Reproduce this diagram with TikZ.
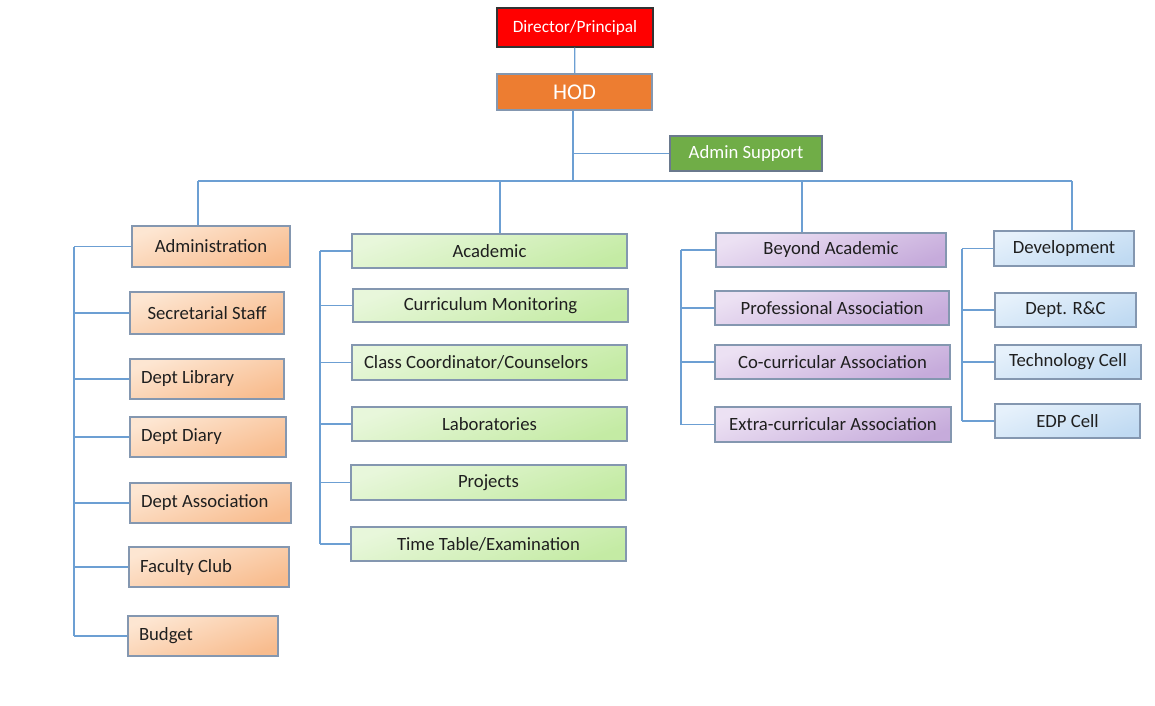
\documentclass[tikz,border=0pt]{standalone}
\usepackage{fontspec}
\setmainfont{Carlito}
\usepackage{tikz}

\definecolor{dirred}{HTML}{FF0000}
\definecolor{hodorg}{HTML}{ED7D31}
\definecolor{supgrn}{HTML}{70AD47}
\definecolor{linkc}{HTML}{6C9FD3}
\definecolor{boxline}{HTML}{8497B0}
\definecolor{orgA}{HTML}{FDE6D2}
\definecolor{orgB}{HTML}{F8BC8E}
\definecolor{grnA}{HTML}{E8F7DB}
\definecolor{grnB}{HTML}{C4EBA4}
\definecolor{purA}{HTML}{ECE1F3}
\definecolor{purB}{HTML}{C6ABDB}
\definecolor{bluA}{HTML}{E6F1FB}
\definecolor{bluB}{HTML}{C0DAF2}

\tikzset{
  box/.style={draw=boxline, line width=0.8pt, minimum height=0.85cm, inner sep=0pt,
    font=\fontsize{13.3}{16}\selectfont, text=black!88},
  headbox/.style={box, text=white},
  admbox/.style={box, top color=orgA, bottom color=orgB, shading angle=20, minimum height=1cm},
  leftbox/.style={admbox, align=flush left, inner xsep=0.275cm, text width=#1},
  acabox/.style={box, top color=grnA, bottom color=grnB, shading angle=20, minimum width=6.875cm},
  beybox/.style={box, top color=purA, bottom color=purB, shading angle=20},
  devbox/.style={box, top color=bluA, bottom color=bluB, shading angle=20},
  link/.style={draw=linkc, line width=0.9pt}
}

\begin{document}
\begin{tikzpicture}[x=1cm, y=-1cm]
  \useasboundingbox (0,0) rectangle (28.875,17.625);

  % top of the chart
  \node[headbox, fill=dirred, draw=black!80, minimum width=3.9cm, minimum height=0.975cm,
    font=\fontsize{12.3}{15}\selectfont] (dir) at (14.375,0.6875) {Director/Principal};
  \node[headbox, fill=hodorg, minimum width=3.875cm, minimum height=0.9cm,
    font=\fontsize{16}{19}\selectfont] (hod) at (14.3625,2.3) {HOD};
  \node[headbox, fill=supgrn, draw=boxline!80!black, minimum width=3.8cm, minimum height=0.875cm] (asup) at (18.65,3.8375) {Admin Support};

  % administration
  \node[admbox, minimum width=3.95cm, minimum height=1.025cm] (adm) at (5.275,6.1625) {Administration};
  \node[admbox, minimum width=3.85cm, minimum height=1.05cm] (sec) at (5.175,7.825) {Secretarial Staff};
  \node[leftbox=3.3cm] (lib) at (5.175,9.475) {Dept Library};
  \node[leftbox=3.35cm] (dia) at (5.2,10.925) {Dept Diary};
  \node[leftbox=3.475cm] (ass) at (5.2625,12.575) {Dept Association};
  \node[leftbox=3.45cm] (fac) at (5.225,14.175) {Faculty Club};
  \node[leftbox=3.2cm] (bud) at (5.075,15.9) {Budget};

  % academic
  \node[acabox] (aca) at (12.2375,6.275) {Academic};
  \node[acabox, minimum height=0.825cm] (cur) at (12.2625,7.6375) {Curriculum Monitoring};
  \node[acabox, minimum height=0.875cm, align=flush left, inner xsep=0.3cm, text width=6.275cm] (cls) at (12.2375,9.0625) {Class Coordinator/Counselors};
  \node[acabox] (lab) at (12.2375,10.6) {Laboratories};
  \node[acabox, minimum height=0.875cm] (prj) at (12.2125,12.0625) {Projects};
  \node[acabox] (ttb) at (12.2125,13.6) {Time Table/Examination};

  % beyond academic
  \node[beybox, minimum width=5.75cm] (bey) at (20.775,6.25) {Beyond Academic};
  \node[beybox, minimum width=5.85cm] (pro) at (20.8,7.7) {Professional Association};
  \node[beybox, minimum width=5.875cm] (coc) at (20.8125,9.05) {Co-curricular Association};
  \node[beybox, minimum width=5.9cm, minimum height=0.875cm] (exc) at (20.825,10.6125) {Extra-curricular Association};

  % development
  \node[devbox, minimum width=3.5cm, minimum height=0.875cm] (dev) at (26.6,6.2125) {Development};
  \node[devbox, minimum width=3.525cm] (rnc) at (26.6375,7.75) {Dept. R\&C};
  \node[devbox, minimum width=3.65cm] (tec) at (26.7,9.05) {Technology Cell};
  \node[devbox, minimum width=3.625cm] (edp) at (26.6875,10.525) {EDP Cell};

  % bus and spines
  \coordinate (bus) at (14.325,4.525);
  \coordinate (bA) at (4.95,4.525);
  \coordinate (bB) at (12.5,4.525);
  \coordinate (bC) at (20.05,4.525);
  \coordinate (bD) at (26.8,4.525);
  \coordinate (sA) at (1.85,0);
  \coordinate (sB) at (8,0);
  \coordinate (sC) at (17.025,0);
  \coordinate (sD) at (24.05,0);

  \draw[link] (dir) -- (hod);
  \draw[link] (hod.south -| bus) -- (bus);
  \draw[link] (asup.west) -- (asup.west -| bus);
  \draw[link] (bA) -- (bD);
  \draw[link] (bA) -- (bA |- adm.north);
  \draw[link] (bB) -- (bB |- aca.north);
  \draw[link] (bC) -- (bC |- bey.north);
  \draw[link] (bD) -- (bD |- dev.north);

  \draw[link] (sA |- adm.west) -- (sA |- bud.west);
  \foreach \n in {adm,sec,lib,dia,ass,fac,bud}
    \draw[link] (\n.west) -- (\n.west -| sA);
  \draw[link] (sB |- aca.west) -- (sB |- ttb.west);
  \foreach \n in {aca,cur,cls,lab,prj,ttb}
    \draw[link] (\n.west) -- (\n.west -| sB);
  \draw[link] (sC |- bey.west) -- (sC |- exc.west);
  \foreach \n in {bey,pro,coc,exc}
    \draw[link] (\n.west) -- (\n.west -| sC);
  \draw[link] (sD |- dev.west) -- (sD |- edp.west);
  \foreach \n in {dev,rnc,tec,edp}
    \draw[link] (\n.west) -- (\n.west -| sD);
\end{tikzpicture}
\end{document}
